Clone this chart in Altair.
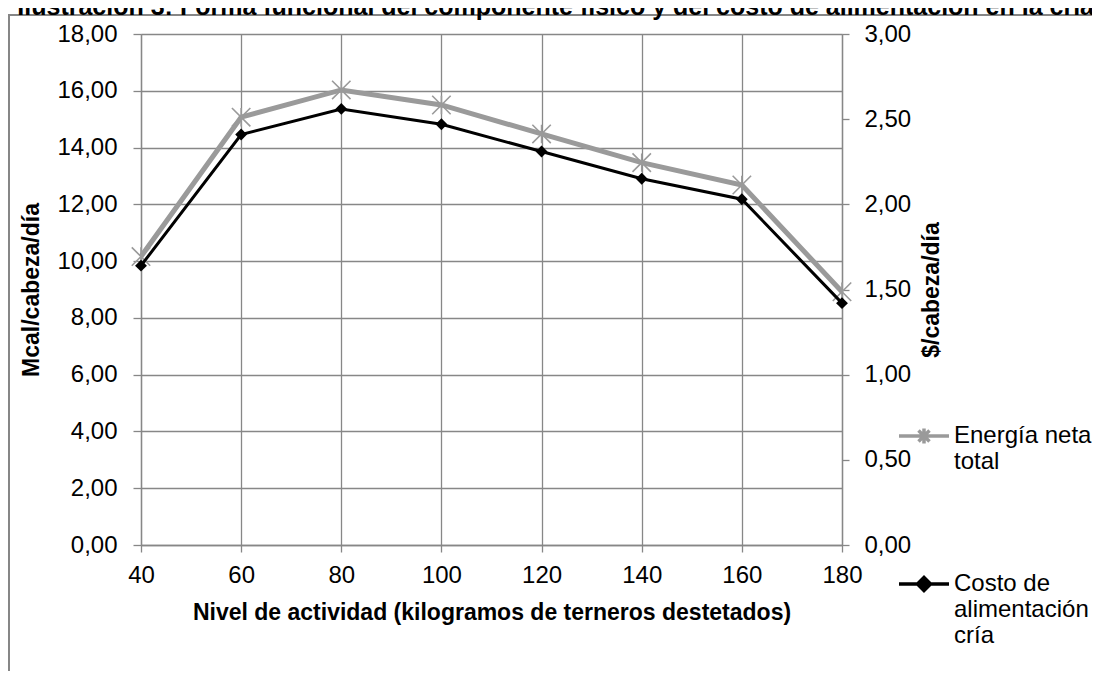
import altair as alt
import pandas as pd

# ---- data ----
niveles = [40, 60, 80, 100, 120, 140, 160, 180]
energia = [10.16, 15.07, 16.03, 15.50, 14.48, 13.47, 12.68, 8.92]   # Mcal/cabeza/día (left axis)
costo = [1.64, 2.41, 2.56, 2.47, 2.31, 2.15, 2.03, 1.42]            # $/cabeza/día (right axis)

series_keys = ["energia", "costo"]
series_labels = [["Energía neta", "total"], ["Costo de", "alimentación", "cría"]]
ticks_left = [0, 2, 4, 6, 8, 10, 12, 14, 16, 18]
ticks_right = [0, 0.5, 1.0, 1.5, 2.0, 2.5, 3.0]

titulo = "Ilustración 3: Forma funcional del componente físico y del costo de alimentación en la cría"
titulo_x = "Nivel de actividad (kilogramos de terneros destetados)"
titulo_y_izq = "Mcal/cabeza/día"
titulo_y_der = "$/cabeza/día"

df = pd.DataFrame({"nivel": niveles, "energia": energia, "costo": costo})

FONT = "Liberation Sans"
GRAY_LINE = "#9a9a9a"
GRID = "#878787"
FS = 24

comma_expr = "replace(format(datum.value, '.2f'), '.', ',')"
label_expr = ("datum.label == '%s' ? %r : %r" % (series_keys[0], series_labels[0], series_labels[1]))

x_enc = alt.X(
    "nivel:Q",
    scale=alt.Scale(domain=[niveles[0], niveles[-1]], nice=False, zero=False),
    axis=alt.Axis(
        values=niveles, title=titulo_x, grid=True, gridColor=GRID, gridWidth=1.3,
        domainColor=GRID, domainWidth=1.3, tickColor=GRID, tickWidth=1.3, tickSize=7,
        labelFontSize=FS, labelFont=FONT, labelColor="black", labelPadding=11,
        labelFlush=False, format="d",
        titleFontSize=FS - 1, titleFont=FONT, titleFontWeight="bold", titleColor="black",
        titlePadding=14,
    ),
)

y_left = alt.Y(
    "energia:Q",
    scale=alt.Scale(domain=[0, 18], nice=False),
    axis=alt.Axis(
        values=ticks_left, title=titulo_y_izq, grid=True, gridColor=GRID, gridWidth=1.3,
        domainColor=GRID, domainWidth=1.3, tickColor=GRID, tickWidth=1.3, tickSize=8,
        labelExpr=comma_expr, labelFontSize=FS, labelFont=FONT, labelColor="black",
        labelPadding=16,
        titleFontSize=FS - 1, titleFont=FONT, titleFontWeight="bold", titleColor="black",
        titlePadding=13,
    ),
)

y_right = alt.Y(
    "costo:Q",
    scale=alt.Scale(domain=[0, 3], nice=False),
    axis=alt.Axis(
        orient="right", values=ticks_right, title=titulo_y_der, grid=False,
        domainColor=GRID, domainWidth=1.3, tickColor=GRID, tickWidth=1.3, tickSize=7,
        labelExpr=comma_expr, labelFontSize=FS, labelFont=FONT, labelColor="black",
        labelPadding=15,
        titleFontSize=FS - 1, titleFont=FONT, titleFontWeight="bold", titleColor="black",
        titleAngle=270, titleBaseline="top", titlePadding=10,
    ),
)

base = alt.Chart(df)

frame = base.mark_rect(fill=None, stroke=GRID, strokeWidth=1.3).encode(
    x=alt.value(-132), x2=alt.value(1100), y=alt.value(-19), y2=alt.value(700)
)

line_e = base.mark_line(color=GRAY_LINE, strokeWidth=5).encode(x=x_enc, y=y_left)
pts_e = base.mark_point(
    shape="M-1,-1L1,1M-1,1L1,-1M0,-1L0,1", size=340, filled=False,
    color=GRAY_LINE, strokeWidth=1.6, opacity=1,
).encode(x=x_enc, y=y_left)

legend_paths = [
    "M-1,0L1,0M-0.22,-0.22L0.22,0.22M-0.22,0.22L0.22,-0.22M0,-0.3L0,0.3",
    "M-1,0L1,0M0,-0.26L0.26,0L0,0.26L-0.26,0ZM0,-0.13L0.13,0L0,0.13L-0.13,0Z",
]

legend_layer = base.transform_fold(series_keys, as_=["serie", "valor"]).mark_point(
    opacity=0, filled=False
).encode(
    x=x_enc, y=y_left,
    color=alt.Color(
        "serie:N",
        scale=alt.Scale(domain=series_keys, range=[GRAY_LINE, "black"]),
        legend=alt.Legend(
            orient="none", legendX=756, legendY=375, title=None,
            labelExpr=label_expr, labelFontSize=FS, labelFont=FONT, labelColor="black",
            labelBaseline="middle", labelOffset=3, symbolSize=2500, symbolStrokeWidth=3.5,
            symbolOpacity=1, padding=0, rowPadding=83, labelLimit=400,
        ),
    ),
    shape=alt.Shape("serie:N", scale=alt.Scale(domain=series_keys, range=legend_paths)),
)

line_c = base.mark_line(color="black", strokeWidth=3).encode(x=x_enc, y=y_right)
pts_c = base.mark_point(shape="diamond", size=140, filled=True, color="black", opacity=1).encode(
    x=x_enc, y=y_right
)

left = alt.layer(frame, line_e, pts_e, legend_layer)
right = alt.layer(line_c, pts_c)

chart = (
    alt.layer(left, right)
    .resolve_scale(y="independent")
    .properties(
        width=701, height=511,
        padding={"left": 133, "top": 26, "right": 250, "bottom": 126},
        autosize=alt.AutoSizeParams(type="none"),
        title=alt.TitleParams(
            text=titulo, anchor="start", dx=9, fontSize=25, font=FONT,
            fontWeight="bold", color="black", dy=10,
        ),
    )
    .configure_view(stroke=None)
    .configure(background="white")
)

chart.save("out.html", embed_options={"renderer": "svg", "actions": False})
